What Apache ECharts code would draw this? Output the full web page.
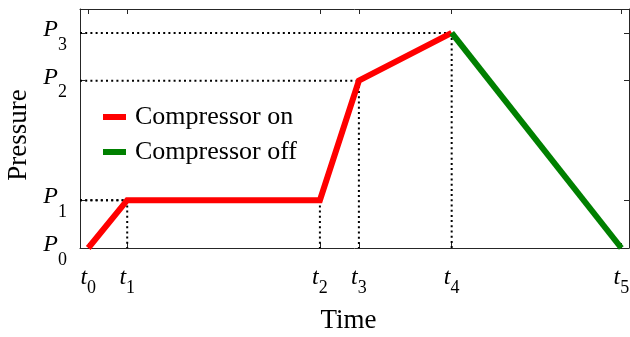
<!DOCTYPE html>
<html>
<head>
<meta charset="utf-8">
<script src="https://cdn.jsdelivr.net/npm/echarts@6/dist/echarts.min.js"></script>
<style>
  html, body { margin: 0; padding: 0; background: #fff; }
  #chart { width: 630px; height: 337px; }
</style>
</head>
<body>
<div id="chart"></div>
<script>
// Event times t0..t5 (arbitrary time units)
const times = [0.15, 0.86, 4.37, 5.08, 6.77, 9.86];
const timeSubscripts = ['0', '1', '2', '3', '4', '5'];
// Pressure levels P0..P3 (arbitrary pressure units)
const pressures = [0, 2, 7, 9];
const pressureSubscripts = ['0', '1', '2', '3'];
// Pressure at each event time
const pressureAtTime = [0, 2, 2, 7, 9, 0];
// Compressor running from t0 to t4, stopped from t4 to t5
const onIdx = [0, 1, 2, 3, 4];
const offIdx = [4, 5];
// Corners that get dotted guides back to both axes
const guideIdx = [1, 2, 3, 4];

const X_MIN = 0, X_MAX = 10, Y_MIN = 0, Y_MAX = 10;
const SERIF = '"Liberation Serif", "Times New Roman", serif';
const AXIS_COLOR = '#262626';

function nearestIndex(arr, v) {
  let best = 0;
  arr.forEach((a, i) => { if (Math.abs(a - v) < Math.abs(arr[best] - v)) best = i; });
  return best;
}

const pts = idx => idx.map(i => [times[i], pressureAtTime[i]]);

const guideSeries = [];
guideIdx.forEach(i => {
  const t = times[i], p = pressureAtTime[i];
  [[[X_MIN, p], [t, p]], [[t, p], [t, Y_MIN]]].forEach(seg => {
    guideSeries.push({
      type: 'line', data: seg, silent: true, showSymbol: false, z: 1,
      lineStyle: { color: '#000', width: 2, type: [2, 3.2], cap: 'butt' }
    });
  });
});

const boxLine = { show: true, onZero: false, lineStyle: { color: AXIS_COLOR, width: 1 } };

function tickCfg(values) {
  return { show: true, inside: true, length: 5, customValues: values,
           lineStyle: { color: AXIS_COLOR, width: 1 } };
}

const chart = echarts.init(document.getElementById('chart'), null, { renderer: 'canvas' });
chart.setOption({
  animation: false,
  backgroundColor: '#fff',
  grid: { left: 80, right: 1, top: 9, bottom: 89, containLabel: false, outerBoundsMode: 'none' },
  legend: {
    orient: 'vertical', left: 103, top: 104, itemGap: 9, padding: 0,
    itemWidth: 23, itemHeight: 6, icon: 'rect',
    textStyle: { fontFamily: SERIF, fontSize: 26, color: '#000', lineHeight: 26, padding: [0, 0, 0, 4] },
    data: ['Compressor on', 'Compressor off']
  },
  xAxis: [{
    type: 'value', min: X_MIN, max: X_MAX, position: 'bottom',
    axisLine: boxLine, axisTick: tickCfg(times), splitLine: { show: false },
    axisLabel: {
      customValues: times, margin: 11.5, color: '#000',
      formatter: v => '{a|t}{b|' + timeSubscripts[nearestIndex(times, v)] + '}',
      rich: {
        a: { fontFamily: SERIF, fontStyle: 'italic', fontSize: 24, color: '#000', verticalAlign: 'top', padding: [6, 0, 0, 0] },
        b: { fontFamily: SERIF, fontSize: 18, color: '#000', verticalAlign: 'top', padding: [19.5, 0, 0, 0] }
      }
    },
    name: 'Time', nameLocation: 'middle', nameGap: 59,
    nameTextStyle: { fontFamily: SERIF, fontSize: 27, color: '#000', padding: [0, 12, 0, 0] }
  }, {
    type: 'value', min: X_MIN, max: X_MAX, position: 'top',
    axisLine: boxLine, axisTick: tickCfg(times), axisLabel: { show: false }, splitLine: { show: false }
  }],
  yAxis: [{
    type: 'value', min: Y_MIN, max: Y_MAX, position: 'left',
    axisLine: boxLine, axisTick: tickCfg(pressures), splitLine: { show: false },
    axisLabel: {
      customValues: pressures, margin: 13, color: '#000',
      formatter: v => '{a|P}{b|' + pressureSubscripts[nearestIndex(pressures, v)] + '}',
      rich: {
        a: { fontFamily: SERIF, fontStyle: 'italic', fontSize: 24, color: '#000', verticalAlign: 'top', padding: [5.5, 0, 0, 0] },
        b: { fontFamily: SERIF, fontSize: 18, color: '#000', verticalAlign: 'top', padding: [24, 0, 0, 0] }
      }
    },
    name: 'Pressure', nameLocation: 'middle', nameGap: 47,
    nameTextStyle: { fontFamily: SERIF, fontSize: 27, color: '#000', padding: [0, 13, 0, 0] }
  }, {
    type: 'value', min: Y_MIN, max: Y_MAX, position: 'right',
    axisLine: boxLine, axisTick: tickCfg(pressures), axisLabel: { show: false }, splitLine: { show: false }
  }],
  series: guideSeries.concat([
    {
      name: 'Compressor on', type: 'line', data: pts(onIdx), showSymbol: false, z: 3,
      itemStyle: { color: '#ff0000' },
      lineStyle: { color: '#ff0000', width: 6, join: 'miter', cap: 'butt' }
    },
    {
      name: 'Compressor off', type: 'line', data: pts(offIdx), showSymbol: false, z: 3,
      itemStyle: { color: '#008000' },
      lineStyle: { color: '#008000', width: 6, join: 'miter', cap: 'butt' }
    }
  ])
});
</script>
</body>
</html>
